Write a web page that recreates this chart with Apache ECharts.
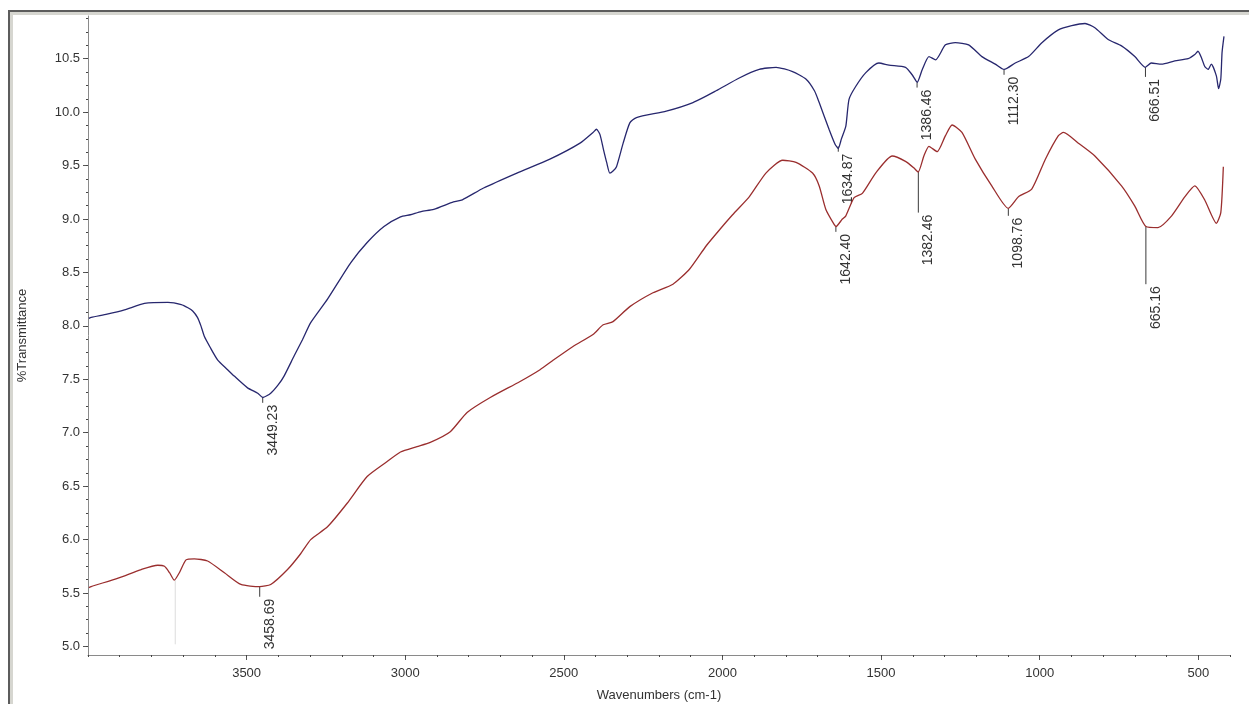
<!DOCTYPE html>
<html>
<head>
<meta charset="utf-8">
<script src="https://cdn.jsdelivr.net/npm/echarts@6/dist/echarts.min.js"></script>
<style>
html,body{margin:0;padding:0;background:#fff;}
#chart{width:1249px;height:704px;}
</style>
</head>
<body>
<div id="chart"></div>
<script>
// ---- data ----
const blueX = [3997,3990,3940,3885,3822,3748,3706,3685,3670,3655,3644,3633,3615,3591,3560,3539,3497,3465,3449,3424,3400,3382,3350,3324,3298,3245,3172,3120,3067,3015,2984,2950,2910,2848,2820,2753,2648,2544,2449,2408,2397,2386,2375,2365,2355,2345,2334,2313,2292,2271,2177,2093,2020,1947,1884,1831,1779,1737,1710,1695,1664,1645,1635,1625,1611,1601,1580,1548,1507,1475,1423,1402,1386,1370,1349,1328,1297,1266,1224,1182,1140,1112,1077,1035,993,941,899,857,826,784,742,700,667,648,616,574,532,511,501,490,480,469,459,443,436,429,425,419];
const blueY = [8.07,8.08,8.11,8.15,8.21,8.22,8.20,8.17,8.14,8.08,8.00,7.90,7.80,7.68,7.59,7.53,7.42,7.37,7.33,7.37,7.45,7.53,7.72,7.87,8.03,8.25,8.59,8.78,8.93,9.02,9.04,9.07,9.09,9.16,9.18,9.29,9.43,9.56,9.71,9.81,9.84,9.79,9.65,9.53,9.43,9.45,9.49,9.71,9.90,9.95,10.01,10.09,10.20,10.32,10.40,10.42,10.38,10.31,10.20,10.09,9.84,9.70,9.66,9.75,9.87,10.12,10.24,10.37,10.46,10.44,10.42,10.35,10.28,10.40,10.52,10.49,10.63,10.65,10.63,10.52,10.45,10.40,10.46,10.52,10.65,10.77,10.81,10.83,10.79,10.68,10.62,10.52,10.42,10.46,10.45,10.48,10.50,10.54,10.57,10.51,10.43,10.40,10.45,10.34,10.22,10.31,10.56,10.71];

const redX = [3997,3990,3905,3832,3780,3759,3743,3728,3712,3691,3665,3623,3570,3518,3459,3424,3371,3329,3298,3245,3183,3120,3057,3015,2963,2921,2858,2805,2732,2638,2575,2533,2470,2408,2376,2345,2292,2219,2156,2104,2051,2009,1968,1915,1863,1810,1768,1716,1695,1674,1648,1642,1622,1611,1585,1559,1517,1465,1423,1397,1383,1365,1349,1323,1297,1276,1245,1203,1151,1099,1066,1025,982,941,925,878,826,742,700,665,627,584,542,511,480,443,429,421];
const redY = [5.55,5.56,5.64,5.72,5.76,5.75,5.69,5.62,5.69,5.81,5.82,5.80,5.69,5.58,5.56,5.58,5.72,5.87,6.00,6.12,6.34,6.59,6.73,6.82,6.87,6.91,7.01,7.19,7.33,7.48,7.59,7.68,7.81,7.92,8.01,8.04,8.18,8.31,8.39,8.53,8.75,8.90,9.04,9.21,9.43,9.55,9.53,9.43,9.31,9.09,8.95,8.93,9.00,9.03,9.20,9.24,9.43,9.59,9.54,9.48,9.44,9.59,9.68,9.63,9.78,9.88,9.81,9.56,9.31,9.10,9.21,9.28,9.56,9.78,9.81,9.71,9.59,9.31,9.12,8.93,8.92,9.03,9.21,9.31,9.18,8.96,9.06,9.49];

// peak markers: position, curve value at peak, value where the marker line ends, label text
const peakX     = [3449.23, 3458.69, 1634.87, 1642.40, 1386.46, 1382.46, 1112.30, 1098.76, 666.51, 665.16, 3725];
const peakTop   = [7.33,    5.56,    9.68,    8.93,    10.28,   9.445,   10.40,   9.10,    10.42,  8.93,   5.62];
const peakEnd   = [7.28,    5.465,   9.63,    8.88,    10.23,   9.06,    10.35,   9.03,    10.33,  8.39,   5.02];
const peakTexts = ['3449.23','3458.69','1634.87','1642.40','1386.46','1382.46','1112.30','1098.76','666.51','665.16',''];

const yTickLabels = [5.0,5.5,6.0,6.5,7.0,7.5,8.0,8.5,9.0,9.5,10.0,10.5];
const xTickLabels = [500,1000,1500,2000,2500,3000,3500];
const yMinorTicks = [];
for (let i = 0; i <= 47; i++) yMinorTicks.push(+(5 + i * 0.125).toFixed(3));
const xMinorTicks = [];
for (let w = 400; w <= 4000; w += 100) xMinorTicks.push(w);

// ---- chart ----
const FONT = "'Liberation Sans', Arial, sans-serif";
const chart = echarts.init(document.getElementById('chart'), null, {renderer: 'canvas'});
const axisGray = '#8a8a8a';

const option = {
  animation: false,
  backgroundColor: '#ffffff',
  textStyle: {fontFamily: FONT},
  grid: {left: 88, right: 19, top: 16, bottom: 49, containLabel: false, outerBoundsMode: 'none'},
  graphic: [
    {type: 'rect', shape: {x: 8, y: 10, width: 1241, height: 2}, style: {fill: '#5c5c5c'}, silent: true},
    {type: 'rect', shape: {x: 10, y: 12, width: 1239, height: 3}, style: {fill: '#d6d6d0'}, silent: true},
    {type: 'rect', shape: {x: 8, y: 10, width: 2, height: 694}, style: {fill: '#5c5c5c'}, silent: true},
    {type: 'rect', shape: {x: 10, y: 12, width: 3, height: 692}, style: {fill: '#d6d6d0'}, silent: true}
  ],
  xAxis: [
    {
      type: 'value', min: 400, max: 4000, inverse: true, position: 'bottom',
      name: 'Wavenumbers (cm-1)', nameLocation: 'middle', nameGap: 34,
      nameTextStyle: {fontFamily: FONT, fontSize: 13, color: '#333'},
      axisLine: {show: true, lineStyle: {color: axisGray, width: 1}},
      axisTick: {show: true, customValues: xTickLabels, length: 5, lineStyle: {color: '#555'}},
      axisLabel: {show: true, customValues: xTickLabels, margin: 12, fontFamily: FONT, fontSize: 13, color: '#333',
                  formatter: v => String(Math.round(v))},
      splitLine: {show: false}
    },
    {
      type: 'value', min: 400, max: 4000, inverse: true, position: 'bottom',
      axisLine: {show: false},
      axisTick: {show: true, customValues: xMinorTicks, length: 2, lineStyle: {color: '#444'}},
      axisLabel: {show: false},
      splitLine: {show: false}
    }
  ],
  yAxis: [
    {
      type: 'value', min: 4.92, max: 10.9, position: 'left',
      name: '%Transmittance', nameLocation: 'middle', nameGap: 59, nameRotate: 90,
      nameTextStyle: {fontFamily: FONT, fontSize: 13, color: '#333'},
      axisLine: {show: true, lineStyle: {color: axisGray, width: 1}},
      axisTick: {show: true, customValues: yTickLabels, length: 5, lineStyle: {color: '#555'}},
      axisLabel: {show: true, customValues: yTickLabels, margin: 8, fontFamily: FONT, fontSize: 13, color: '#333',
                  formatter: v => Number(v).toFixed(1)},
      splitLine: {show: false}
    },
    {
      type: 'value', min: 4.92, max: 10.9, position: 'left',
      axisLine: {show: false},
      axisTick: {show: true, customValues: yMinorTicks, length: 2, lineStyle: {color: '#444'}},
      axisLabel: {show: false},
      splitLine: {show: false}
    }
  ],
  series: [
    {
      type: 'line', xAxisIndex: 0, yAxisIndex: 0, showSymbol: false, symbol: 'none', smooth: 0.2,
      data: blueX.map((x, i) => [x, blueY[i]]),
      lineStyle: {color: '#27276e', width: 1.3}, silent: true
    },
    {
      type: 'line', xAxisIndex: 0, yAxisIndex: 0, showSymbol: false, symbol: 'none', smooth: 0.2,
      data: redX.map((x, i) => [x, redY[i]]),
      lineStyle: {color: '#9a2e2e', width: 1.3}, silent: true
    },
    {
      type: 'custom', xAxisIndex: 0, yAxisIndex: 0, silent: true,
      data: peakX.map((x, i) => [x, peakTop[i], peakEnd[i]]),
      renderItem: function (params, api) {
        const w = api.value(0);
        const p = api.coord([w, api.value(1)]);
        const e = api.coord([w, api.value(2)]);
        const txt = peakTexts[params.dataIndex];
        const children = [{
          type: 'line',
          shape: {x1: p[0], y1: p[1], x2: e[0], y2: e[1]},
          style: {stroke: txt ? '#3a3a3a' : '#dcdcdc', lineWidth: 1}
        }];
        if (txt) {
          children.push({
            type: 'text', x: e[0] + 10, y: e[1] + 2, rotation: Math.PI / 2,
            style: {text: txt, font: "14px 'Liberation Sans', Arial, sans-serif", fill: '#333',
                    textAlign: 'right', textVerticalAlign: 'middle', align: 'right', verticalAlign: 'middle'}
          });
        }
        return {type: 'group', children: children};
      }
    }
  ]
};
chart.setOption(option);
</script>
</body>
</html>
